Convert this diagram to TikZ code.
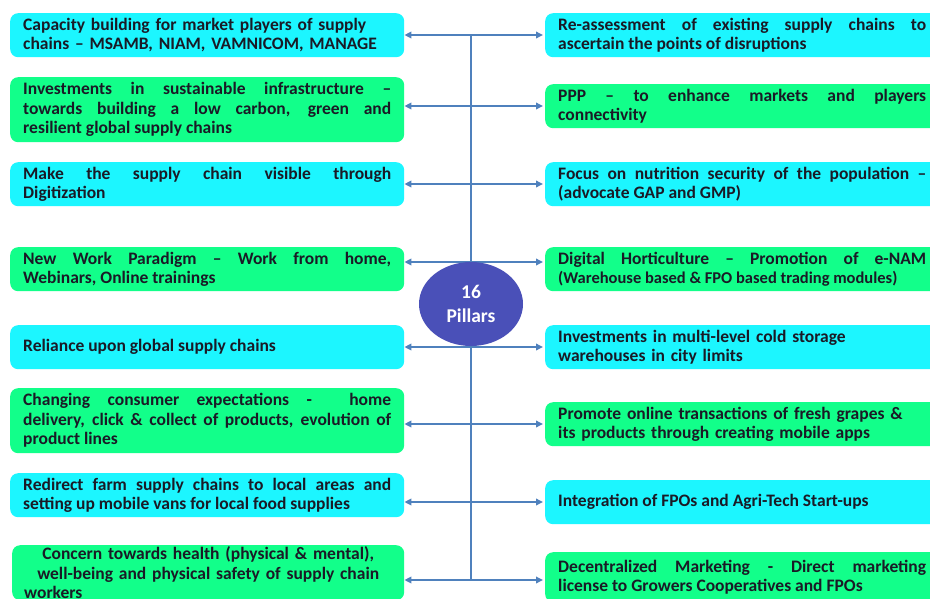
\documentclass[tikz,border=0pt]{standalone}
\usepackage{fontspec}
\setmainfont{Carlito}
\usetikzlibrary{arrows.meta,shapes.geometric}

\definecolor{boxcyan}{HTML}{1CF6FF}
\definecolor{boxgreen}{HTML}{12FF8A}
\definecolor{linkblue}{HTML}{4F81BD}
\definecolor{hubblue}{HTML}{4A50B8}
\definecolor{ink}{HTML}{1A1A26}

\tikzset{
  pillar/.style={rounded corners=8pt, draw=none, text=ink,
    font=\bfseries\fontsize{17.5}{19.5}\selectfont,
    text width=368pt, inner xsep=13pt, inner ysep=0pt,
    minimum height=44pt, anchor=north west, align=justify},
  cyanbox/.style={pillar, fill=boxcyan},
  greenbox/.style={pillar, fill=boxgreen},
  spine/.style={draw=linkblue, line width=2.4pt},
  link/.style={spine, {Triangle[length=7pt,width=6.5pt]}-{Triangle[length=7pt,width=6.5pt]}}
}

\begin{document}
\begin{tikzpicture}[x=1pt,y=-1pt]
\path[clip] (0,0) rectangle (930,598);
\fill[white] (0,0) rectangle (930,598);

% left column
\node[cyanbox, align=left] (L1) at (10,13)
  {Capacity building for market players of supply\\chains – MSAMB, NIAM, VAMNICOM, MANAGE};
\node[greenbox, minimum height=65pt] (L2) at (10,77)
  {Investments in sustainable infrastructure –\linebreak towards building a low carbon, green and\linebreak resilient global supply chains};
\node[cyanbox] (L3) at (10,162)
  {Make the supply chain visible through\linebreak Digitization};
\node[greenbox] (L4) at (10,247)
  {New Work Paradigm – Work from home,\linebreak Webinars, Online trainings};
\node[cyanbox] (L5) at (10,325)
  {Reliance upon global supply chains};
\node[greenbox, minimum height=65pt] (L6) at (10,388)
  {Changing consumer expectations -\hspace{20pt} home\linebreak delivery, click \& collect of products, evolution of\linebreak product lines};
\node[cyanbox] (L7) at (10,473)
  {Redirect farm supply chains to local areas and\linebreak setting up mobile vans for local food supplies};
\node[greenbox, minimum height=55pt, inner xsep=12pt, align=center] (L8) at (12,545)
  {Concern towards health (physical \& mental),\\well-being and physical safety of supply chain\\\hbox to 368pt{workers\hfil}};

% right column
\node[cyanbox] (R1) at (545,13)
  {Re-assessment of existing supply chains to\linebreak ascertain the points of disruptions};
\node[greenbox] (R2) at (545,84)
  {PPP – to enhance markets and players\linebreak connectivity};
\node[cyanbox] (R3) at (545,162)
  {Focus on nutrition security of the population –\linebreak (advocate GAP and GMP)};
\node[greenbox] (R4) at (545,247)
  {Digital Horticulture – Promotion of e-NAM\linebreak {\fontsize{16.5}{19.5}\selectfont(Warehouse based \& FPO based trading modules)}};
\node[cyanbox, align=left] (R5) at (545,325)
  {Investments in multi-level cold storage\\warehouses in city limits};
\node[greenbox, align=left] (R6) at (545,402)
  {Promote online transactions of fresh grapes \&\\its products through creating mobile apps};
\node[cyanbox] (R7) at (545,480)
  {Integration of FPOs and Agri-Tech Start-ups};
\node[greenbox, minimum height=50pt] (R8) at (545,552)
  {Decentralized Marketing - Direct marketing\linebreak license to Growers Cooperatives and FPOs};

% branch points on the spine
\coordinate (b1) at (471,35);
\coordinate (b2) at (471,106);
\coordinate (b3) at (471,184);
\coordinate (b4) at (471,262);
\coordinate (b5) at (471,347);
\coordinate (b6) at (471,424);
\coordinate (b7) at (471,502);
\coordinate (b8) at (471,580);

\draw[spine] (b1) -- (b8);
\foreach \i in {1,...,8}
  \draw[link] (L\i.east |- b\i) -- ([xshift=-2pt]R\i.west |- b\i);

% hub
\node[ellipse, fill=hubblue, minimum width=104pt, minimum height=84pt,
      inner sep=0pt, text=white, font=\bfseries\fontsize{19.5}{24}\selectfont,
      align=center] (hub) at (471,304) {16\\Pillars};
\end{tikzpicture}
\end{document}
